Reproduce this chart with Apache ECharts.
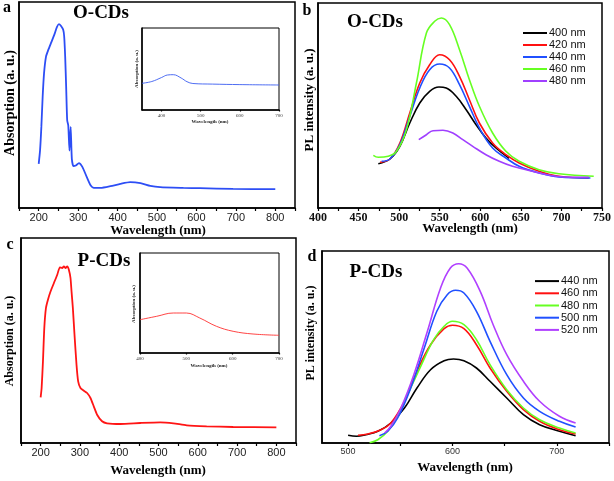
<!DOCTYPE html>
<html><head><meta charset="utf-8">
<script src="https://cdn.jsdelivr.net/npm/echarts@6/dist/echarts.min.js"></script>
<style>html,body{margin:0;padding:0;background:#fff}#c{width:614px;height:481px}</style>
</head><body><div id="c"></div>
<script>
// ---------- Panel a: O-CDs absorption ----------
const aWave = [200,203.4,206.7,210,213.5,218.5,224.3,231,239.4,246.1,251.2,256.2,262.1,264.6,267.1,269.6,272.2,275,278,281,284,288,294,302,311,322,332,340,357,382,407,432,458,483,508,567,609,693,800];
const aAbs  = [44,57.3,80.7,110.7,134,150.7,157.3,164,172.3,180,183,181.3,177.3,170.7,150.7,120.7,87.3,82,57,80.7,49,41.7,42.3,44.7,40.7,30.7,22.3,20,20,21.7,24,25.7,24.7,22,20.7,20,19.7,19,18.7];
// inset a
const aiWave = [350,375,400,415,430,450,465,480,530,600,700];
const aiAbs  = [26.7,28.5,32.5,35,35.3,32,28.3,26.5,25.9,25.4,25];

// ---------- Panel b: O-CDs PL ----------
const b400w = [474.3,488.6,500.9,513.1,525.4,537.6,549.1,558,570.3,582.6,594.8,607,619.3,635.6];
const b400v = [44.3,49,61.7,85,105,116.7,121,120,111.7,98.3,83.3,70,60,49.7];
const b420w = [476.4,488.6,500.9,513.1,525.4,537.6,549.9,562.1,574.4,586.6,598.9,615.2,631.6,647.9,672.4,696.9,733.7];
const b420v = [45.7,49,65,95,125,143.3,153.3,148.3,131.7,108.3,85,65,53.3,45,36.7,31.7,30];
const b440w = [478.4,488.6,500.9,513.1,525.4,537.6,549.9,562.1,574.4,586.6,598.9,615.2,631.6,647.9,672.4,696.9,735.7];
const b440v = [46.7,49,63.3,91.7,120,138.3,144,140,123.3,101.7,80,60,50,41.7,35,31,30];
const b460w = [468.2,474.3,486.6,496.8,509,521.3,533.6,543.8,552,562.1,574.4,586.6,598.9,615.2,631.6,647.9,672.4,696.9,739.8];
const b460v = [52.7,50.7,51.7,56.7,78.3,125,175,186.7,190,183.3,158.3,128.3,101.7,75,56.7,46.7,38.3,34.3,31.7];
const b480w = [524.2,533.6,541.7,554,566.2,578.5,590.7,607,623.4,639.7,664.2,688.7,713.2,733.7];
const b480v = [68.3,73.3,77.3,77.7,75,68.3,61.7,53.3,46.7,41.7,36.7,32.3,30.7,30.7];

// ---------- Panel c: P-CDs absorption ----------
const cWave = [200,202.5,205.9,209.3,213.5,218.6,225.4,233.8,242.3,249,255,259.2,263.4,267.6,271.8,276,278.6,282,286.2,291.3,295.5,301.4,309.9,318.3,326.8,335.2,343.7,356.3,369,402.8,453.5,504.2,538,571.8,622.5,690.1,800];
const cAbs  = [45.7,55,81.7,115,135,143.3,151.7,160,168.3,175.7,175,176.7,175,176.7,173.3,165,151.7,135,108.3,78.3,61.7,55,52.3,50,45,36.7,28.3,21.7,19.7,19,20,20.7,19.7,17.7,16.7,16,15.7];
// inset c
const ciWave = [400,436,472,500,529,565,601,644,700];
const ciAbs  = [33.3,36.7,40,40,35,26.7,21.7,19,17.7];

// ---------- Panel d: P-CDs PL ----------
const d440w = [500,508,517,528.5,541,554,566,579,592,601,611,623,636,652,668,683.5,702.5,718];
const d440v = [7.7,6.7,8.3,11.7,20,35,55,73.3,82.3,84,82.3,75,61.7,45,28.3,18.3,11.7,7.3];
const d460w = [509.5,519,531.6,541,554,566,579,592,600,611,623,636,652,668,683.5,702.5,718];
const d460v = [7.7,9,13.3,20,41.7,71.7,98.3,114.3,117.7,114.3,98.3,75,51.7,33.3,21.7,13.3,9];
const d480w = [520.6,528.5,538,547.5,557,569.6,582,592,600,611,623,636,652,668,683.5,702.5,718];
const d480v = [0.3,3.3,11.7,26.7,48.3,76.7,103.3,116.7,121.7,118.3,103.3,78.3,53.3,35,23.3,15,10];
const d500w = [530,538,547.5,560,573,585,595,603,611,623,636,652,668,683.5,702.5,718];
const d500v = [7.3,11.7,25,55,95,131.7,148.3,152.7,150,131.7,101.7,68.3,45,31.7,21.7,16];
const d520w = [535,541,550.6,563,576,588.6,598,606,614,626.6,639,652,668,683.5,702.5,718];
const d520v = [10,16.7,35,68.3,111.7,155,175,179.3,175,151.7,118.3,88.3,61.7,41.7,26.7,20];

const bNames = ['400 nm','420 nm','440 nm','460 nm','480 nm'];
const dNames = ['440 nm','460 nm','480 nm','500 nm','520 nm'];
const aTicks = [150,200,250,300,350,400,450,500,550,600,650,700,750,800,850];
const aLabels = [200,300,400,500,600,700,800];
const bTicks = [400,425,450,475,500,525,550,575,600,625,650,675,700,725,750];
const bLabels = [400,450,500,550,600,650,700,750];
const dTicks = [500,550,600,650,700,750];
const dLabels = [500,600,700];
const aiLabels = [400,500,600,700];
const ciLabels = [400,500,600,700];

const pairs = (xs, ys) => xs.map((x, i) => [x, ys[i]]);
const SERIF = '"Liberation Serif","Times New Roman",serif';
const SANS = '"Liberation Sans",Arial,sans-serif';

function xAxis(gi, min, max, ticks, labels, lab, tickLen) {
  return {
    type: 'value', gridIndex: gi, min: min, max: max, splitLine: {show: false},
    axisLine: {show: true, onZero: false, lineStyle: {color: '#000', width: 1.5}},
    axisTick: {show: true, inside: false, length: tickLen, customValues: ticks, lineStyle: {color: '#000', width: 1.2}},
    axisLabel: Object.assign({show: true, customValues: labels, color: '#222', margin: 4}, lab)
  };
}
function yAxis(gi, max) {
  return {
    type: 'value', gridIndex: gi, min: 0, max: max, splitLine: {show: false},
    axisLine: {show: true, lineStyle: {color: '#000', width: 1.5}},
    axisTick: {show: false}, axisLabel: {show: false}
  };
}
function line(name, xi, data, color, w, smooth) {
  return {name: name, type: 'line', xAxisIndex: xi, yAxisIndex: xi, data: data,
    showSymbol: false, symbol: 'none', smooth: smooth, lineStyle: {color: color, width: w},
    itemStyle: {color: color}, silent: true, animation: false};
}

const bColors = ['#000000', '#ff1010', '#2050ff', '#66ff22', '#a040ff'];
const dColors = ['#000000', '#ff1010', '#66ff22', '#2050ff', '#b040ff'];
const legendItems = (names, colors) => names.map((n, i) => ({name: n, itemStyle: {color: colors[i]}}));

const gridBox = {show: true, borderColor: '#000', borderWidth: 1.5, backgroundColor: '#fff'};
const option = {
  animation: false,
  backgroundColor: '#fff',
  grid: [
    Object.assign({left: 19, right: 319, top: 2, bottom: 273}, gridBox),
    Object.assign({left: 318, right: 11, top: 3, bottom: 273}, gridBox),
    Object.assign({left: 21, right: 318, top: 238, bottom: 38}, gridBox),
    Object.assign({left: 322, right: 5, top: 251, bottom: 38}, gridBox),
    Object.assign({left: 142, right: 335, top: 28, bottom: 371}, gridBox, {borderWidth: 1}),
    Object.assign({left: 140, right: 335, top: 253, bottom: 128}, gridBox, {borderWidth: 1})
  ],
  xAxis: [
    xAxis(0, 150, 850, aTicks, aLabels, {fontFamily: SANS, fontSize: 11}, 3),
    xAxis(1, 400, 750, bTicks, bLabels, {fontFamily: SERIF, fontSize: 12, fontWeight: 'bold', color: '#111'}, 3),
    xAxis(2, 150, 850, aTicks, aLabels, {fontFamily: SANS, fontSize: 11}, 3),
    xAxis(3, 475, 750, dTicks, dLabels, {fontFamily: SANS, fontSize: 9, color: '#333'}, 3),
    xAxis(4, 350, 700, aiLabels, aiLabels, {fontFamily: SERIF, fontSize: 5, color: '#333', margin: 3}, 1.5),
    xAxis(5, 400, 700, ciLabels, ciLabels, {fontFamily: SERIF, fontSize: 5, color: '#333', margin: 3}, 1.5)
  ],
  yAxis: [yAxis(0, 205), yAxis(1, 205), yAxis(2, 205), yAxis(3, 192), yAxis(4, 82), yAxis(5, 100)],
  legend: [
    {data: legendItems(bNames, bColors), orient: 'vertical', left: 518, top: 22, itemWidth: 24, itemHeight: 2, itemGap: 0, icon: 'rect',
     textStyle: {fontFamily: SANS, fontSize: 11, color: '#111', lineHeight: 12, padding: [0,0,0,-3]}},
    {data: legendItems(dNames, dColors), orient: 'vertical', left: 530, top: 270, itemWidth: 24, itemHeight: 2, itemGap: 0, icon: 'rect',
     textStyle: {fontFamily: SANS, fontSize: 11, color: '#111', lineHeight: 12.2, padding: [0,0,0,-3]}}
  ],
  series: [
    line('a', 0, pairs(aWave, aAbs), '#2d4ef5', 1.8, 0.2),
    line('ai', 4, pairs(aiWave, aiAbs), '#3a5cf0', 0.9, 0.4),
    line(bNames[0], 1, pairs(b400w, b400v), bColors[0], 1.6, 0.4),
    line(bNames[1], 1, pairs(b420w, b420v), bColors[1], 1.6, 0.4),
    line(bNames[2], 1, pairs(b440w, b440v), bColors[2], 1.6, 0.4),
    line(bNames[3], 1, pairs(b460w, b460v), bColors[3], 1.6, 0.4),
    line(bNames[4], 1, pairs(b480w, b480v), bColors[4], 1.6, 0.4),
    line('c', 2, pairs(cWave, cAbs), '#ff1515', 1.8, 0.2),
    line('ci', 5, pairs(ciWave, ciAbs), '#ff3030', 0.9, 0.4),
    line(dNames[0], 3, pairs(d440w, d440v), dColors[0], 1.6, 0.4),
    line(dNames[1], 3, pairs(d460w, d460v), dColors[1], 1.6, 0.4),
    line(dNames[2], 3, pairs(d480w, d480v), dColors[2], 1.6, 0.4),
    line(dNames[3], 3, pairs(d500w, d500v), dColors[3], 1.6, 0.4),
    line(dNames[4], 3, pairs(d520w, d520v), dColors[4], 1.6, 0.4)
  ],
  graphic: [
    // panel letters
    {type: 'text', x: 7, y: 8, style: {text: 'a', font: 'bold 16px ' + SERIF, fill: '#000', textAlign: 'center', textVerticalAlign: 'middle'}},
    {type: 'text', x: 307, y: 11, style: {text: 'b', font: 'bold 16px ' + SERIF, fill: '#000', textAlign: 'center', textVerticalAlign: 'middle'}},
    {type: 'text', x: 10, y: 245, style: {text: 'c', font: 'bold 16px ' + SERIF, fill: '#000', textAlign: 'center', textVerticalAlign: 'middle'}},
    {type: 'text', x: 312, y: 257, style: {text: 'd', font: 'bold 16px ' + SERIF, fill: '#000', textAlign: 'center', textVerticalAlign: 'middle'}},
    // sample titles
    {type: 'text', x: 101, y: 13, style: {text: 'O-CDs', font: 'bold 19px ' + SERIF, fill: '#000', textAlign: 'center', textVerticalAlign: 'middle'}},
    {type: 'text', x: 375, y: 22, style: {text: 'O-CDs', font: 'bold 19px ' + SERIF, fill: '#000', textAlign: 'center', textVerticalAlign: 'middle'}},
    {type: 'text', x: 104, y: 261, style: {text: 'P-CDs', font: 'bold 19px ' + SERIF, fill: '#000', textAlign: 'center', textVerticalAlign: 'middle'}},
    {type: 'text', x: 376, y: 272, style: {text: 'P-CDs', font: 'bold 19px ' + SERIF, fill: '#000', textAlign: 'center', textVerticalAlign: 'middle'}},
    // x titles
    {type: 'text', x: 158, y: 231, style: {text: 'Wavelength (nm)', font: 'bold 13px ' + SERIF, fill: '#000', textAlign: 'center', textVerticalAlign: 'middle'}},
    {type: 'text', x: 470, y: 229, style: {text: 'Wavelength (nm)', font: 'bold 13px ' + SERIF, fill: '#000', textAlign: 'center', textVerticalAlign: 'middle'}},
    {type: 'text', x: 158, y: 471, style: {text: 'Wavelength (nm)', font: 'bold 13px ' + SERIF, fill: '#000', textAlign: 'center', textVerticalAlign: 'middle'}},
    {type: 'text', x: 465, y: 468, style: {text: 'Wavelength (nm)', font: 'bold 13px ' + SERIF, fill: '#000', textAlign: 'center', textVerticalAlign: 'middle'}},
    // y titles
    {type: 'text', x: 10, y: 103, rotation: Math.PI / 2, style: {text: 'Absorption (a. u.)', font: 'bold 14px ' + SERIF, fill: '#000', textAlign: 'center', textVerticalAlign: 'middle'}},
    {type: 'text', x: 310, y: 100, rotation: Math.PI / 2, style: {text: 'PL intensity (a. u.)', font: 'bold 13px ' + SERIF, fill: '#000', textAlign: 'center', textVerticalAlign: 'middle'}},
    {type: 'text', x: 10, y: 341, rotation: Math.PI / 2, style: {text: 'Absorption (a. u.)', font: 'bold 12px ' + SERIF, fill: '#000', textAlign: 'center', textVerticalAlign: 'middle'}},
    {type: 'text', x: 311, y: 333, rotation: Math.PI / 2, style: {text: 'PL intensity (a. u.)', font: 'bold 12px ' + SERIF, fill: '#000', textAlign: 'center', textVerticalAlign: 'middle'}},
    // inset titles
    {type: 'text', x: 210, y: 122, style: {text: 'Wavelength (nm)', font: 'bold 5px ' + SERIF, fill: '#222', textAlign: 'center', textVerticalAlign: 'middle'}},
    {type: 'text', x: 137, y: 69, rotation: Math.PI / 2, style: {text: 'Absorption (a. u.)', font: 'bold 5px ' + SERIF, fill: '#222', textAlign: 'center', textVerticalAlign: 'middle'}},
    {type: 'text', x: 209, y: 366, style: {text: 'Wavelength (nm)', font: 'bold 5px ' + SERIF, fill: '#222', textAlign: 'center', textVerticalAlign: 'middle'}},
    {type: 'text', x: 134, y: 304, rotation: Math.PI / 2, style: {text: 'Absorption (a. u.)', font: 'bold 5px ' + SERIF, fill: '#222', textAlign: 'center', textVerticalAlign: 'middle'}}
  ]
};
const chart = echarts.init(document.getElementById('c'), null, {renderer: 'canvas'});
chart.setOption(option);
</script></body></html>
